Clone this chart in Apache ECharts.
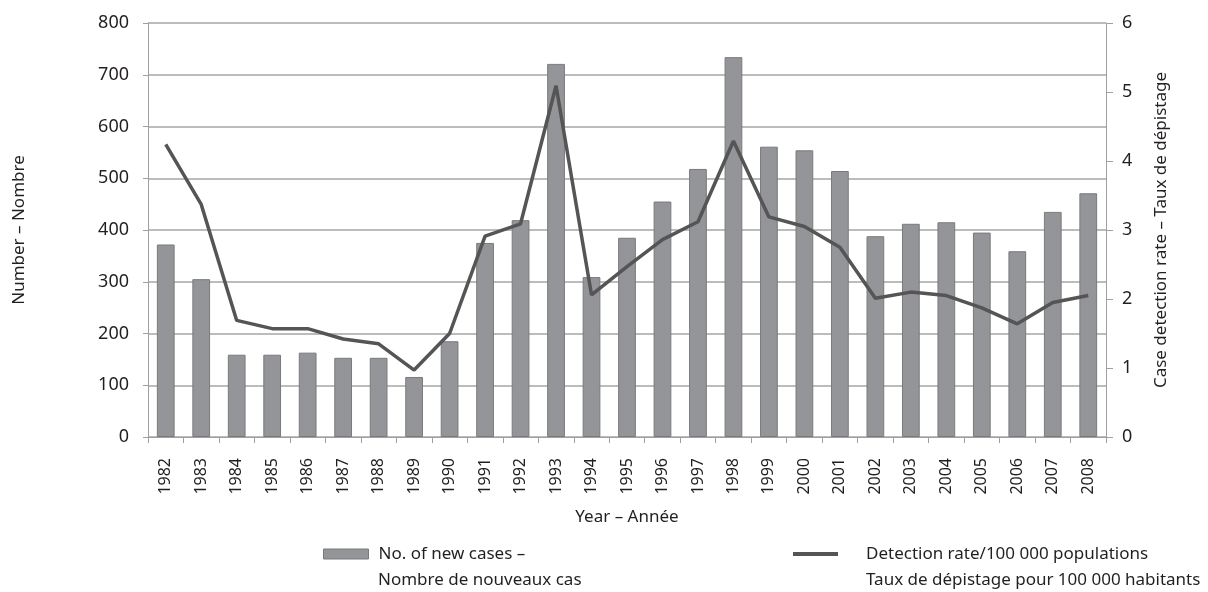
<!DOCTYPE html>
<html>
<head>
<meta charset="utf-8">
<script src="https://cdn.jsdelivr.net/npm/echarts@6/dist/echarts.min.js"></script>
<style>
  html, body { margin: 0; padding: 0; background: #fff; }
  #chart { width: 1208px; height: 592px; }
</style>
</head>
<body>
<div id="chart"></div>
<script>
// Years shown on the category axis
const years = ['1982','1983','1984','1985','1986','1987','1988','1989','1990','1991','1992','1993','1994','1995',
  '1996','1997','1998','1999','2000','2001','2002','2003','2004','2005','2006','2007','2008'];

// Number of new cases per year
const newCases = [372, 305, 159, 159, 163, 153, 153, 116, 185, 375, 419, 721, 309, 385,
  455, 518, 734, 561, 554, 514, 388, 412, 415, 395, 359, 435, 471];

// Detection rate per 100 000 population
const detectionRate = [4.24, 3.37, 1.69, 1.57, 1.57, 1.42, 1.35, 0.97, 1.50, 2.91, 3.09, 5.09, 2.06, 2.47,
  2.86, 3.12, 4.29, 3.19, 3.05, 2.75, 2.01, 2.10, 2.05, 1.87, 1.64, 1.95, 2.05];

// Legend wording: first line sits next to the key, second line underneath
const barName = 'No. of new cases –';
const barName2 = 'Nombre de nouveaux cas';
const lineName = 'Detection rate/100 000 populations';
const lineName2 = 'Taux de dépistage pour 100 000 habitants';

const FONT = 'Noto Sans';
const TEXT = '#231f20';
const AXIS = '#a0a0a0';

const chart = echarts.init(document.getElementById('chart'), null, { renderer: 'canvas' });

const secondLine = { fontFamily: FONT, fontSize: 17, color: TEXT, fontWeight: 'normal' };

chart.setOption({
  animation: false,
  backgroundColor: '#fff',
  textStyle: { fontFamily: FONT },
  grid: { left: 148, right: 102, top: 23, bottom: 155, containLabel: false },
  legend: [
    {
      left: 323, top: 544, padding: 0, itemWidth: 45, itemHeight: 10,
      textStyle: { fontFamily: FONT, fontSize: 17, color: TEXT, lineHeight: 20, padding: [0, 0, 0, 5] },
      data: [{ name: barName, icon: 'rect', itemStyle: { color: '#939598', borderColor: '#7a7a7a', borderWidth: 1 } }]
    },
    {
      left: 793, top: 544, padding: 0, itemWidth: 45, itemHeight: 4,
      textStyle: { fontFamily: FONT, fontSize: 17, color: TEXT, lineHeight: 20, padding: [0, 0, 0, 23] },
      data: [{ name: lineName, icon: 'rect', itemStyle: { color: '#555555', borderWidth: 0 } }]
    }
  ],
  title: [
    { text: barName2, left: 378, top: 572, padding: 0, textStyle: secondLine },
    { text: lineName2, left: 866, top: 572, padding: 0, textStyle: secondLine }
  ],
  xAxis: {
    type: 'category',
    data: years,
    boundaryGap: true,
    name: 'Year – Année',
    nameLocation: 'middle',
    nameGap: 72,
    nameTextStyle: { fontFamily: FONT, fontSize: 17, color: TEXT },
    axisLine: { lineStyle: { color: AXIS, width: 1 } },
    axisTick: { show: true, alignWithLabel: false, length: 6, lineStyle: { color: AXIS } },
    axisLabel: { rotate: 90, fontFamily: FONT, fontSize: 16, color: TEXT, margin: 21, interval: 0 }
  },
  yAxis: [
    {
      type: 'value',
      min: 0, max: 800, interval: 100,
      name: 'Number – Nombre',
      nameLocation: 'middle',
      nameGap: 120,
      nameRotate: 90,
      nameTextStyle: { fontFamily: FONT, fontSize: 17, color: TEXT },
      axisLine: { show: true, lineStyle: { color: AXIS } },
      axisTick: { show: true, length: 5, lineStyle: { color: AXIS } },
      axisLabel: { fontFamily: FONT, fontSize: 18, color: TEXT, margin: 19 },
      splitLine: { show: true, lineStyle: { color: '#a6a6a6', width: 1.5 } }
    },
    {
      type: 'value',
      min: 0, max: 6, interval: 1,
      position: 'right',
      name: 'Case detection rate – Taux de dépistage',
      nameLocation: 'middle',
      nameGap: 47,
      nameRotate: 90,
      nameTextStyle: { fontFamily: FONT, fontSize: 17, color: TEXT },
      axisLine: { show: true, lineStyle: { color: AXIS } },
      axisTick: { show: true, length: 7, lineStyle: { color: AXIS } },
      axisLabel: { fontFamily: FONT, fontSize: 18, color: TEXT, margin: 16 },
      splitLine: { show: false }
    }
  ],
  series: [
    {
      name: barName,
      type: 'bar',
      data: newCases,
      yAxisIndex: 0,
      barWidth: '50%',
      itemStyle: { color: '#939598', borderColor: '#7a7a7a', borderWidth: 1 }
    },
    {
      name: lineName,
      type: 'line',
      data: detectionRate,
      yAxisIndex: 1,
      symbol: 'none',
      lineStyle: { color: '#555555', width: 3.5 },
      z: 3
    }
  ]
});
</script>
</body>
</html>
